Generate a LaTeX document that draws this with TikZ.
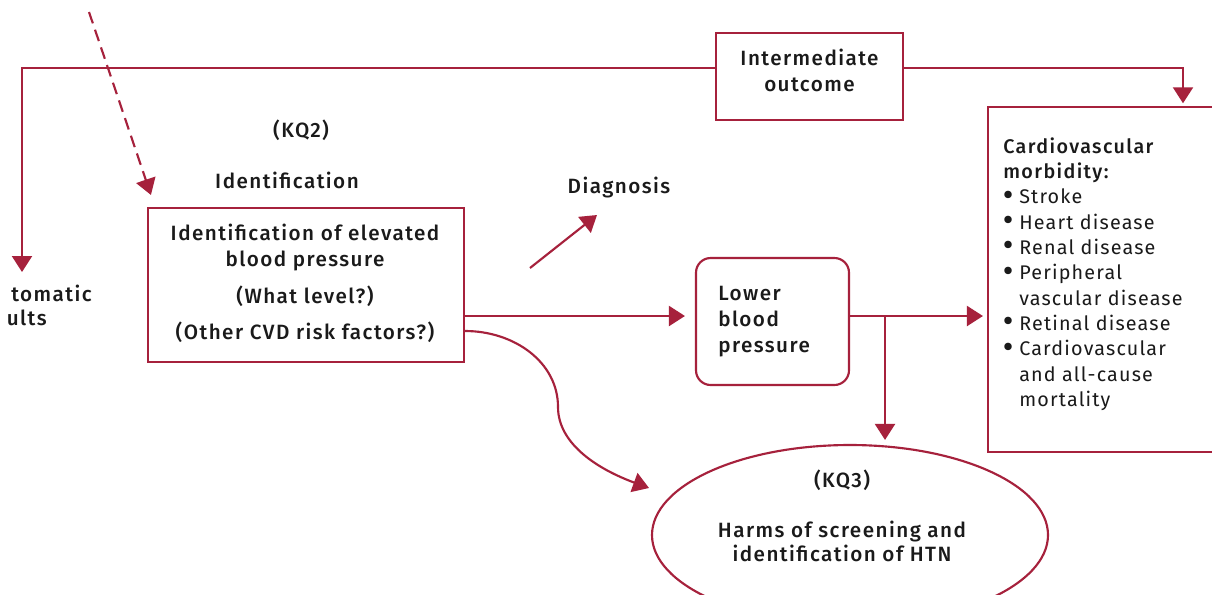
\documentclass[tikz,border=0pt]{standalone}
\usepackage{fontspec}
\setmainfont{Fira Sans}[LetterSpace=6]
\newfontfamily\medf{Fira Sans Medium}[LetterSpace=7]
\usetikzlibrary{arrows.meta,shapes.geometric}
\definecolor{crim}{HTML}{A6213C}
\definecolor{ink}{HTML}{1A1A1A}
\newcommand\bl{\makebox[12pt][l]{\raisebox{-0.3pt}{\fontspec{Fira Sans SemiBold}\fontsize{21}{21}\selectfont\textbullet}}}
\newcommand\ind{\hspace*{12pt}}
\begin{document}
\begin{tikzpicture}[x=0.75pt,y=-0.75pt,
  ln/.style={draw=crim,line width=1.6pt},
  arr/.style={ln,-{Triangle[length=12pt,width=15pt]}},
  bx/.style={draw=crim,line width=1.6pt,inner sep=0pt},
  mt/.style={font=\medf\fontsize{15.5}{19.5}\selectfont,text=ink,inner sep=0pt},
  rt/.style={font=\fontsize{14.8}{19}\selectfont,text=ink,inner sep=0pt}]
\clip (0,0) rectangle (1212,594);
\fill[white] (0,0) rectangle (1212,594);
% boxes
\node[bx,minimum width=140.25pt,minimum height=65.25pt] (im) at (809.5,76.5) {};
\node[mt,align=center] (imt) at (809.5,70) {Intermediate\\outcome};
\node[bx,minimum width=237pt,minimum height=115.5pt] (b1) at (306,285) {};
\node[mt,align=center] (b1t) at (305,283.5) {Identification of elevated\\blood pressure\\[8pt](What level?)\\[8pt](Other CVD risk factors?)};
\node[bx,rounded corners=11pt,minimum width=114.75pt,minimum height=95.25pt] (lbp) at (772.5,321.5) {};
\node[mt,align=left,anchor=west] (lbpt) at (718,321.5) {Lower\\blood\\pressure};
\node[bx,minimum width=189pt,minimum height=258.75pt] (cv) at (1114,279.5) {};
\node[rt,align=left,anchor=west] (cvt) at (1003,274) {{\medf Cardiovascular}\\{\medf morbidity:}\\\bl Stroke\\\bl Heart disease\\\bl Renal disease\\\bl Peripheral\\\ind vascular disease\\\bl Retinal disease\\\bl Cardiovascular\\\ind and all-cause\\\ind mortality};
\node[bx,ellipse,minimum width=297pt,minimum height=135pt] (el) at (850,535) {};
\node[mt] (kq3) at (842,480) {(KQ3)};
\node[mt,align=center,font=\medf\fontsize{15.5}{18}\selectfont] (hm) at (842,541) {Harms of screening and\\identification of HTN};
% free labels
\node[mt] (kq2) at (301,130) {(KQ2)};
\node[mt] (idt) at (287,180) {Identification};
\node[mt] (diag) at (619,188) {Diagnosis};
\node[mt,anchor=east] (as1) at (92,293) {tomatic};
\node[mt,anchor=east] (as2) at (47,318) {ults};
% connectors
\coordinate (tl) at (22,68);
\coordinate (tlend) at (22,272);
\draw[arr] (im.west |- tl) -- (tl) -- (tlend);
\coordinate (tr) at (1183,68);
\draw[arr,shorten >=2pt] (im.east |- tr) -- (tr) -- (tr |- cv.north);
\coordinate (ds) at (89,12);
\draw[arr,dash pattern=on 9pt off 5pt] (ds) -- ([shift={(4,-12)}]b1.north west);
\coordinate (d0) at (530,268);
\draw[arr] (d0) -- ([shift={(-22,27)}]diag.center);
\coordinate (my) at (0,316);
\draw[arr,shorten >=7.5pt] (b1.east |- my) -- (lbp.west |- my);
\draw[arr,shorten >=3pt] (lbp.east |- my) -- (cv.west |- my);
\coordinate (br) at (885,316);
\draw[arr,shorten >=3pt] (br) -- (br |- el.north);
\coordinate (cy) at (0,331);
\coordinate (ce) at (649,488);
\draw[arr] (b1.east |- cy) .. controls (514,331) and (558,362) .. (558,407) .. controls (558,445) and (600,470) .. (ce);
\end{tikzpicture}
\end{document}
